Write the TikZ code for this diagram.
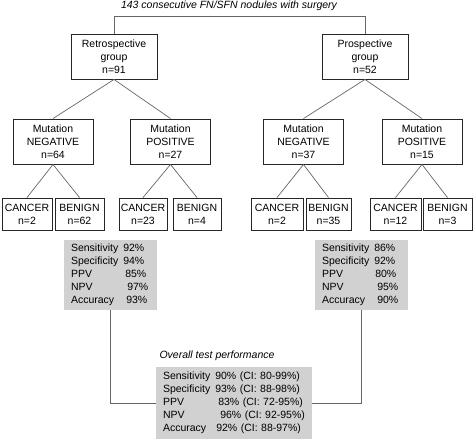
\documentclass[tikz,border=0pt]{standalone}
\usepackage{fontspec}
\setmainfont{Liberation Sans}
\begin{document}
\begin{tikzpicture}[x=1pt,y=-1pt,
  font=\fontsize{10.5}{13}\selectfont,
  box/.style={draw=black!85,line width=0.9pt,align=center,inner sep=0pt},
  midbox/.style={box,minimum width=80pt,minimum height=45pt},
  topbox/.style={box,minimum width=86pt,minimum height=45pt},
  leaf/.style={box,minimum height=32pt},
  stat/.style={fill=black!18,inner xsep=7pt,inner ysep=0pt,align=left},
  conn/.style={draw=black!60,line width=0.7pt}]
\useasboundingbox (0,0) rectangle (474,440);
\node[font=\fontsize{10.5}{13}\selectfont\itshape] (title) at (229,6) {143 consecutive FN/SFN nodules with surgery};
\node[topbox] (retro) at (114,56.5) {Retrospective\\group\\n=91};
\node[topbox] (pros) at (365,56.5) {Prospective\\group\\n=52};
\coordinate (tl) at (114,16.5);
\coordinate (tr) at (365,16.5);
\draw[conn] (retro.north) -- (tl) -- (tr) -- (pros.north);
\node[midbox] (neg1) at (53,141.5) {Mutation\\NEGATIVE\\n=64};
\node[midbox] (pos1) at (170.5,141.5) {Mutation\\POSITIVE\\n=27};
\node[midbox] (neg2) at (303.5,141.5) {Mutation\\NEGATIVE\\n=37};
\node[midbox] (pos2) at (422,141.5) {Mutation\\POSITIVE\\n=15};
\draw[conn] (retro.south) -- (neg1.north);
\draw[conn] (retro.south) -- (pos1.north);
\draw[conn] (pros.south) -- (neg2.north);
\draw[conn] (pros.south) -- (pos2.north);
\node[leaf,minimum width=50pt] (c1) at (27,214) {CANCER\\n=2};
\node[leaf,minimum width=49pt] (b1) at (79.5,214) {BENIGN\\n=62};
\node[leaf,minimum width=48pt] (c2) at (143,214) {CANCER\\n=23};
\node[leaf,minimum width=48pt] (b2) at (197,214) {BENIGN\\n=4};
\node[leaf,minimum width=52pt] (c3) at (277,214) {CANCER\\n=2};
\node[leaf,minimum width=45pt] (b3) at (328.5,214) {BENIGN\\n=35};
\node[leaf,minimum width=51pt] (c4) at (395.5,214) {CANCER\\n=12};
\node[leaf,minimum width=49pt] (b4) at (447.5,214) {BENIGN\\n=3};
\draw[conn] (neg1.south) -- (c1.north);
\draw[conn] (neg1.south) -- (b1.north);
\draw[conn] (pos1.south) -- (c2.north);
\draw[conn] (pos1.south) -- (b2.north);
\draw[conn] (neg2.south) -- (c3.north);
\draw[conn] (neg2.south) -- (b3.north);
\draw[conn] (pos2.south) -- (c4.north);
\draw[conn] (pos2.south) -- (b4.north);
\node[stat,text width=79pt,minimum height=70pt] (s1) at (110.5,275) {%
\begin{tabular}{@{}l@{\hspace{5pt}}l@{}}
Sensitivity & 92\%\\
Specificity & 94\%\\
PPV & \hspace{2pt}85\%\\
NPV & \hspace{4pt}97\%\\
Accuracy & \hspace{3pt}93\%
\end{tabular}};
\node[stat,text width=79pt,minimum height=70pt] (s2) at (361.5,275) {%
\begin{tabular}{@{}l@{\hspace{5pt}}l@{}}
Sensitivity & 86\%\\
Specificity & 92\%\\
PPV & \hspace{1pt}80\%\\
NPV & \hspace{3pt}95\%\\
Accuracy & \hspace{3pt}90\%
\end{tabular}};
\node[font=\fontsize{10.5}{13}\selectfont\itshape] (ovl) at (217,356) {Overall test performance};
\node[stat,text width=142pt,minimum height=72pt] (s3) at (234,403) {%
\begin{tabular}{@{}l@{\hspace{5pt}}l@{}}
Sensitivity & 90\% (CI: 80-99\%)\\
Specificity & 93\% (CI: 88-98\%)\\
PPV & \hspace{3pt}83\% (CI: 72-95\%)\\
NPV & \hspace{5pt}96\% (CI: 92-95\%)\\
Accuracy & \hspace{1pt}92\% (CI: 88-97\%)
\end{tabular}};
\coordinate (l1) at (s1.south |- s3.west);
\coordinate (l2) at (s2.south |- s3.east);
\draw[conn] (s1.south) -- (l1) -- (s3.west);
\draw[conn] (s2.south) -- (l2) -- (s3.east);
\end{tikzpicture}
\end{document}
